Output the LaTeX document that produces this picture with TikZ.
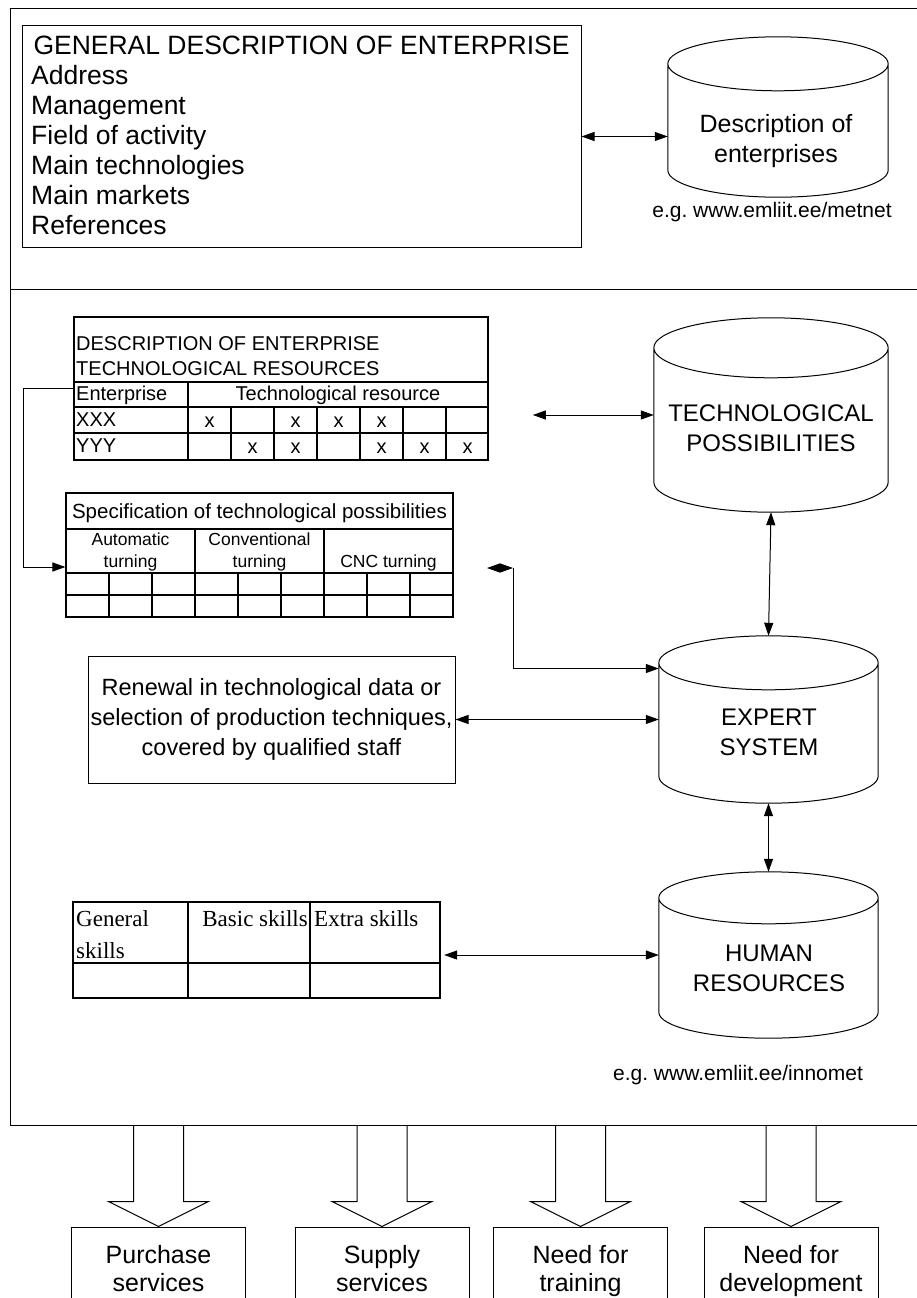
\documentclass[tikz,border=0pt]{standalone}
\usepackage{fontspec}
\setmainfont{Liberation Sans}
\newfontfamily\skillfont{Liberation Serif}
\usepackage{tikz}
\usetikzlibrary{arrows.meta, calc, positioning}
\frenchspacing
\newcommand{\fsbig}{\fontsize{26.5}{30}\selectfont}
\newcommand{\fsdb}{\fontsize{24}{30}\selectfont}
\newcommand{\fscell}{\fontsize{20}{25}\selectfont}
\newcommand{\dbshape}[2]{%
  \draw[line width=1pt] let \p1=(#1.north west), \p2=(#1.south east), \n1={(\x2-\x1)/2} in
    (\x1,\y1-#2) -- (\x1,\y2+#2) arc[start angle=180, end angle=360, x radius=\n1, y radius=#2] -- (\x2,\y1-#2)
    (\x1+\n1,\y1-#2) ellipse[x radius=\n1, y radius=#2];}
\tikzset{
  frame/.style={line width=1pt},
  box/.style={rectangle, draw=black, line width=1pt, align=center, inner sep=0pt},
  outbox/.style={box, minimum width=174, minimum height=90, font=\fontsize{25}{28}\selectfont},
  tbl/.style={rectangle, draw=black, inner sep=0pt},
  cell/.style={inner sep=0pt, font=\fscell},
  skill/.style={inner sep=0pt, font=\skillfont\fontsize{23}{32}\selectfont},
  dbase/.style={rectangle, inner sep=0pt},
  dbtext/.style={align=center, inner sep=0pt, font=\fsdb},
  arrow/.style={-{Triangle[length=13pt,width=9pt]}, line width=1pt},
  darrow/.style={{Triangle[length=13pt,width=9pt]}-{Triangle[length=13pt,width=9pt]}, line width=1pt},
  bigarrow/.style={line width=1pt}
}
\begin{document}
\begin{tikzpicture}[x=1pt, y=-1pt]
\useasboundingbox (0,0) rectangle (917,1298);
\draw[frame] (10,9) rectangle (925,1125);
\draw[frame] (10,289) -- (925,289);
\coordinate (fb) at (0,1125);

\node[box, minimum width=559, minimum height=221] (gen) at (301.5,136.5) {};
\node[font=\fsbig, inner sep=0pt] (gent) at (301.5,45) {GENERAL DESCRIPTION OF ENTERPRISE};
\node[font=\fsbig, align=left, inner sep=0pt, anchor=west] (genl) at (31,150) {Address\\Management\\Field of activity\\Main technologies\\Main markets\\References};

\node[dbase, minimum width=220, minimum height=160] (desc) at (778,117) {};
\dbshape{desc}{27pt}
\node[dbtext, font=\fontsize{25}{30}\selectfont] (desct) at (776,141) {Description of\\enterprises};
\node[inner sep=0pt, font=\fontsize{21}{25}\selectfont] (url1) at (772,212) {e.g. www.emliit.ee/metnet};
\draw[darrow] (gen.east) -- (gen.east -| desc.west);

\node[tbl, line width=1.6pt, minimum width=414, minimum height=143] (res) at (281,388.5) {};
\draw[line width=1.6pt] (74,382) -- (488,382) (74,407) -- (488,407) (74,433) -- (488,433) (188,382) -- (188,460);
\foreach \k in {1,...,6} \draw[line width=1.6pt] (188+43*\k,407) -- (188+43*\k,460);
\node[cell, align=left, anchor=west] (restitle) at (76,356) {DESCRIPTION OF ENTERPRISE\\TECHNOLOGICAL RESOURCES};
\node[cell, anchor=west] (enthead) at (76,395) {Enterprise};
\node[cell] (reshead) at (338,395) {Technological resource};
\node[cell, anchor=west] (rowx) at (76,420) {XXX};
\node[cell, anchor=west] (rowy) at (76,446) {YYY};
\foreach \c in {1,3,4,5} \node[cell] (xa\c) at (166.5+43*\c,422) {x};
\foreach \c in {2,3,5,6,7} \node[cell] (xb\c) at (166.5+43*\c,448) {x};

\node[tbl, line width=1.1pt, minimum width=387, minimum height=124] (spec) at (259.5,555) {};
\draw[line width=1.1pt] (66,529) -- (453,529) (66,573) -- (453,573) (66,595) -- (453,595) (195,529) -- (195,573) (324,529) -- (324,573);
\foreach \k in {1,...,8} \draw[line width=1.1pt] (66+43*\k,573) -- (66+43*\k,617);
\node[cell, font=\fontsize{20.5}{25}\selectfont] (spectitle) at (259.5,513) {Specification of technological possibilities};
\node[cell, align=center, font=\fontsize{17.5}{22}\selectfont] (grpa) at (130.5,552) {Automatic\\turning};
\node[cell, align=center, font=\fontsize{17.5}{22}\selectfont] (grpb) at (259.5,552) {Conventional\\turning};
\node[cell, font=\fontsize{17.5}{22}\selectfont] (grpc) at (388.5,563) {CNC turning};
\draw[arrow] (res.west) -- ++(-50,0) |- ([yshift=-12]spec.west);

\node[box, minimum width=367, minimum height=127, font=\fontsize{23.5}{30}\selectfont] (ren) at (271.5,719.5) {Renewal in technological data or\\selection of production techniques,\\covered by qualified staff};

\node[tbl, line width=2.3pt, minimum width=367, minimum height=96] (skl) at (256.5,950) {};
\draw[line width=2.3pt] (73,963) -- (440,963) (188,902) -- (188,998) (310,902) -- (310,998);
\node[skill, align=left, anchor=north west] (sklg) at (76,910) {General\\skills};
\node[skill, anchor=north east] (sklb) at (308,910) {Basic skills};
\node[skill, anchor=north west] (skle) at (314,910) {Extra skills};

\node[dbase, minimum width=234, minimum height=194] (tech) at (771,415) {};
\dbshape{tech}{30pt}
\node[dbtext] (techt) at (771,428) {TECHNOLOGICAL\\POSSIBILITIES};
\node[dbase, minimum width=219, minimum height=167] (exp) at (768.5,719.5) {};
\dbshape{exp}{27pt}
\node[dbtext] (expt) at (769,732) {EXPERT\\SYSTEM};
\node[dbase, minimum width=219, minimum height=166] (hum) at (768.5,955) {};
\dbshape{hum}{26pt}
\node[dbtext] (humt) at (769,968) {HUMAN\\RESOURCES};
\node[inner sep=0pt, font=\fontsize{21}{25}\selectfont] (url2) at (738,1075) {e.g. www.emliit.ee/innomet};

\coordinate (sbend) at (513,568);
\draw[darrow] (tech.west) -- ++(-121,0);
\draw[darrow] ([xshift=-26]sbend) -- (sbend);
\draw[arrow] (sbend) |- ([yshift=51]exp.west);
\draw[darrow] (ren.east) -- (exp.west);
\draw[darrow] (tech.south) -- (exp.north);
\draw[darrow] (exp.south) -- (hum.north);
\draw[darrow] ([xshift=3]skl.east |- hum.west) -- (hum.west);

\node[outbox] (pur) at (158.5,1272) {Purchase\strut\\services\strut};
\node[outbox] (sup) at (382,1272) {Supply\strut\\services\strut};
\node[outbox] (trn) at (580.5,1272) {Need for\strut\\training\strut};
\node[outbox] (dev) at (791,1272) {Need for\strut\\development\strut};
\foreach \b in {pur,sup,trn,dev}
  \draw[bigarrow] let \p1=(\b.north), \p2=(fb) in (\x1-25pt,\y2) -- (\x1-25pt,\y1+25pt) -- (\x1-50pt,\y1+25pt) -- (\p1) -- (\x1+50pt,\y1+25pt) -- (\x1+25pt,\y1+25pt) -- (\x1+25pt,\y2);
\end{tikzpicture}
\end{document}
